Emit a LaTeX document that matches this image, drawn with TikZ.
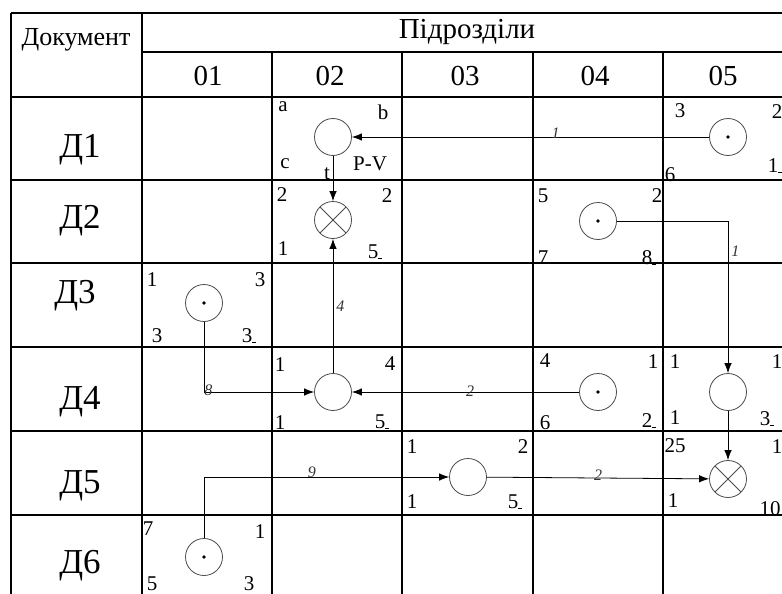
\documentclass[tikz,border=0pt]{standalone}
\usepackage{fontspec}
\setmainfont{Liberation Serif}
\usetikzlibrary{arrows.meta}
\newcommand{\dsh}{\rule[-0.5pt]{4pt}{0.9pt}}
\begin{document}
\begin{tikzpicture}[x=1pt,y=-1pt,
  gridline/.style={line width=1.7pt},
  conn/.style={line width=0.8pt,-{Latex[length=10pt,width=7.5pt]}},
  plainc/.style={circle,draw=black!70,line width=0.8pt,minimum size=37pt,inner sep=0pt},
  dotc/.style={plainc,path picture={\fill (path picture bounding box.center) circle (1.9pt);}},
  crossc/.style={plainc,path picture={\draw[black!70,line width=0.8pt]
      (path picture bounding box.north west)--(path picture bounding box.south east)
      (path picture bounding box.north east)--(path picture bounding box.south west);}},
  hdr/.style={font=\fontsize{26}{26}\selectfont,inner sep=0pt},
  colh/.style={font=\fontsize{29}{29}\selectfont,inner sep=0pt},
  rowh/.style={font=\fontsize{35}{35}\selectfont,inner sep=0pt},
  corner/.style={font=\fontsize{21}{21}\selectfont,inner sep=0pt},
  elab/.style={font=\itshape\fontsize{16}{16}\selectfont,text=black!80,inner sep=1pt}]
\useasboundingbox (0,0) rectangle (782,594);
\clip (0,0) rectangle (782,594);
\fill[white] (0,0) rectangle (782,594);
% grid
\draw[gridline] (11,13) -- (800,13);
\draw[gridline] (11,13) -- (11,600);
\draw[gridline] (142,13) -- (142,600);
\draw[gridline] (142,52) -- (800,52);
\draw[gridline] (11,97) -- (800,97);
\foreach \x in {272,402,533,663} \draw[gridline] (\x,52) -- (\x,600);
\foreach \y in {180,263,347,431,515} \draw[gridline] (11,\y) -- (800,\y);
% headers
\node[hdr] (hdoc) at (76,40) {Документ};
\node[font=\fontsize{29}{29}\selectfont,inner sep=0pt] (hsub) at (467,32) {Підрозділи};
\node[colh] (h01) at (208,76) {01};
\node[colh] (h02) at (330,76) {02};
\node[colh] (h03) at (465,76) {03};
\node[colh] (h04) at (595,76) {04};
\node[colh] (h05) at (723,76) {05};
\node[rowh] (d1) at (80,150) {Д1};
\node[rowh] (d2) at (80,221) {Д2};
\node[rowh] (d3) at (75,296) {Д3};
\node[rowh] (d4) at (80,402) {Д4};
\node[rowh] (d5) at (80,486) {Д5};
\node[rowh] (d6) at (80,566) {Д6};
% symbols
\node[plainc] (r1c2) at (333,137) {};
\node[dotc]   (r1c5) at (728,137) {};
\node[crossc] (r2c2) at (333,220) {};
\node[dotc]   (r2c4) at (598,221) {};
\node[dotc]   (r3c1) at (204,303) {};
\node[plainc] (r4c2) at (333,392) {};
\node[dotc]   (r4c4) at (598,392) {};
\node[plainc] (r4c5) at (728,392) {};
\node[plainc] (r5c3) at (468,477) {};
\node[crossc] (r5c5) at (728,479) {};
\node[dotc]   (r6c1) at (204,557) {};
% connectors
\draw[conn] (r1c5) -- node[elab,pos=0.43,above=-3pt]{1} (r1c2);
\draw[conn] (r1c2) -- (r2c2);
\draw[conn] (r4c2) -- node[elab,pos=0.5,right=2pt]{4} (r2c2);
\draw[conn] (r2c4) -| node[elab,pos=0.6,right=2pt]{1} (r4c5);
\draw[conn] (r3c1) |- node[elab,pos=0.5,anchor=south west,yshift=-5pt,xshift=-1pt]{8} (r4c2);
\draw[conn] (r4c4) -- node[elab,pos=0.48,above=-6pt]{2} (r4c2);
\draw[conn] (r4c5) -- (r5c5);
\draw[conn] (r6c1) |- node[elab,pos=0.72,above=-2pt]{9} (r5c3);
\draw[conn] (r5c3) -- node[elab,pos=0.5,above=-4pt]{2} (r5c5);
% corner labels
\node[corner] (a) at (283,107) {a};
\node[corner] (b) at (383,112) {b};
\node[corner] (c) at (285,164) {c};
\node[corner] (pv) at (370,164) {P-V};
\node[corner] (t) at (327,174) {t};
\node[corner] at (282,195) {2};
\node[corner] at (387,196) {2};
\node[corner] at (283,249) {1};
\node[corner] at (375,252) {5\dsh};
\node[corner] at (680,111) {3};
\node[corner] at (777,112) {2};
\node[corner] at (670,175) {6};
\node[corner] at (775,166) {1\dsh};
\node[corner] at (543,196) {5};
\node[corner] at (657,196) {2};
\node[corner] at (543,258) {7};
\node[corner] at (649,258) {8\dsh};
\node[corner] at (152,280) {1};
\node[corner] at (260,280) {3};
\node[corner] at (157,336) {3};
\node[corner] at (249,336) {3\dsh};
\node[corner] at (280,365) {1};
\node[corner] at (390,364) {4};
\node[corner] at (280,423) {1};
\node[corner] at (382,422) {5\dsh};
\node[corner] at (545,361) {4};
\node[corner] at (653,362) {1};
\node[corner] at (545,423) {6};
\node[corner] at (649,421) {2\dsh};
\node[corner] at (675,362) {1};
\node[corner] at (777,362) {1};
\node[corner] at (675,418) {1};
\node[corner] at (767,419) {3\dsh};
\node[corner] at (412,447) {1};
\node[corner] at (523,447) {2};
\node[corner] at (412,502) {1};
\node[corner] at (515,502) {5\dsh};
\node[corner] at (675,446) {25};
\node[corner] at (777,447) {1};
\node[corner] at (673,501) {1};
\node[corner] at (770,509) {10};
\node[corner] at (148,529) {7};
\node[corner] at (260,532) {1};
\node[corner] at (152,584) {5};
\node[corner] at (249,584) {3};
\end{tikzpicture}
\end{document}
